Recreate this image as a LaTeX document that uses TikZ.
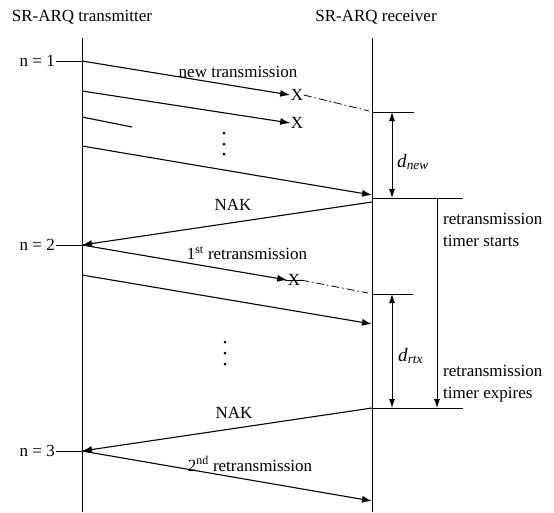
\documentclass[tikz,border=0pt]{standalone}
\usepackage{fontspec}
\setmainfont{Liberation Serif}
\usetikzlibrary{arrows.meta}
\begin{document}
\begin{tikzpicture}[x=1pt,y=-1pt,
  life/.style={line width=0.9pt},
  msg/.style={line width=1.1pt,-{Latex[length=10pt,width=7pt]}},
  plain/.style={line width=1.1pt},
  thin/.style={line width=0.9pt},
  dbl/.style={line width=0.9pt,{Latex[length=9pt,width=6pt]}-{Latex[length=9pt,width=6pt]}},
  down/.style={line width=0.9pt,-{Latex[length=9pt,width=6pt]}},
  lbl/.style={font=\fontsize{17}{22}\selectfont, inner sep=0pt},
  dlbl/.style={font=\fontsize{19}{22}\selectfont, inner sep=0pt},
  xmark/.style={font=\fontsize{17}{22}\selectfont, inner sep=0.5pt},
  dd/.style={line width=0.8pt, dash pattern=on 8pt off 3pt on 1.5pt off 3pt},
  dotm/.style={fill=black, circle, inner sep=0pt, minimum size=3pt}]
\useasboundingbox (0,0) rectangle (554,512);

% titles
\node[lbl] (tt) at (82,17) {SR-ARQ transmitter};
\node[lbl] (rt) at (376,17) {SR-ARQ receiver};

% lifelines
\coordinate (T0) at (82,38); \coordinate (T1) at (82,512);
\coordinate (R0) at (372,38); \coordinate (R1) at (372,512);
\draw[life] (T0) -- (T1);
\draw[life] (R0) -- (R1);

% n labels
\coordinate (a1) at (82,61);
\coordinate (a2) at (82,245);
\coordinate (a3) at (82,451);
\node[lbl, anchor=east] (n1) at (55,61) {n = 1};
\node[lbl, anchor=east] (n2) at (55,245) {n = 2};
\node[lbl, anchor=east] (n3) at (55,451) {n = 3};
\draw[thin] (n1.east) ++(1,0) -- (a1);
\draw[thin] (n2.east) ++(1,0) -- (a2);
\draw[thin] (n3.east) ++(1,0) -- (a3);

% new transmissions
\node[xmark] (x1) at (297,95) {X};
\node[xmark] (x2) at (297,123) {X};
\coordinate (s2) at (82,91);
\coordinate (s3a) at (82,117); \coordinate (s3b) at (132,127);
\coordinate (s4) at (82,146); \coordinate (e4) at (372,195);
\coordinate (d1) at (369,111);
\draw[msg] (a1) -- (x1.west);
\draw[dd] (x1.east) -- (d1);
\draw[msg] (s2) -- (x2.west);
\draw[plain] (s3a) -- (s3b);
\draw[msg] (s4) -- (e4);
\node[lbl] (lnew) at (238,72) {new transmission};
\node[dotm] (p1) at (224,133) {};
\node[dotm] (p2) at (224,144) {};
\node[dotm] (p3) at (224,154) {};

% d_new
\coordinate (k1a) at (372,112); \coordinate (k1b) at (414,112);
\coordinate (k1m) at (392,112); \coordinate (k2m) at (392,198);
\draw[life] (k1a) -- (k1b);
\draw[dbl] (k1m) -- (k2m);
\node[dlbl, anchor=west] (dnew) at (397,162) {\textit{d}\textsubscript{\textit{new}}};

% timer start line
\coordinate (h1a) at (372,198); \coordinate (h1b) at (463,198);
\draw[life] (h1a) -- (h1b);
\coordinate (tm0) at (437,198); \coordinate (tm1) at (437,408);
\draw[down] (tm0) -- (tm1);
\node[lbl, anchor=west, align=left] (ts) at (443,230) {retransmission\\timer starts};

% NAK 1
\coordinate (nk1) at (372,202);
\draw[msg] (nk1) -- (a2);
\node[lbl] (lnak1) at (233,205) {NAK};

% 1st retransmission
\node[xmark] (x3) at (294,280) {X};
\draw[thin] ([xshift=-2pt]x3.west) -- ([xshift=2pt]x3.east);
\coordinate (d3) at (368,293);
\draw[msg] (a2) -- (x3.west);
\draw[dd] (x3.east) -- (d3);
\node[lbl] (lr1) at (247,253) {1\textsuperscript{st} retransmission};
\coordinate (s5) at (82,275); \coordinate (e5) at (372,324);
\draw[msg] (s5) -- (e5);
\node[dotm] (q1) at (225,342) {};
\node[dotm] (q2) at (225,353) {};
\node[dotm] (q3) at (225,364) {};

% d_rtx
\coordinate (k3a) at (372,294); \coordinate (k3b) at (413,294);
\coordinate (k3m) at (392,294); \coordinate (k4m) at (392,408);
\draw[life] (k3a) -- (k3b);
\draw[dbl] (k3m) -- (k4m);
\node[dlbl, anchor=west] (drtx) at (398,356) {\textit{d}\textsubscript{\textit{rtx}}};
\node[lbl, anchor=west, align=left] (te) at (443,384) {retransmission\\timer expires};

% timer expire line
\coordinate (h2a) at (372,408); \coordinate (h2b) at (463,408);
\draw[life] (h2a) -- (h2b);

% NAK 2
\draw[msg] (h2a) -- (a3);
\node[lbl] (lnak2) at (234,413) {NAK};

% 2nd retransmission
\coordinate (e6) at (372,501);
\draw[msg] (a3) -- (e6);
\node[lbl] (lr2) at (250,464) {2\textsuperscript{nd} retransmission};
\end{tikzpicture}
\end{document}
